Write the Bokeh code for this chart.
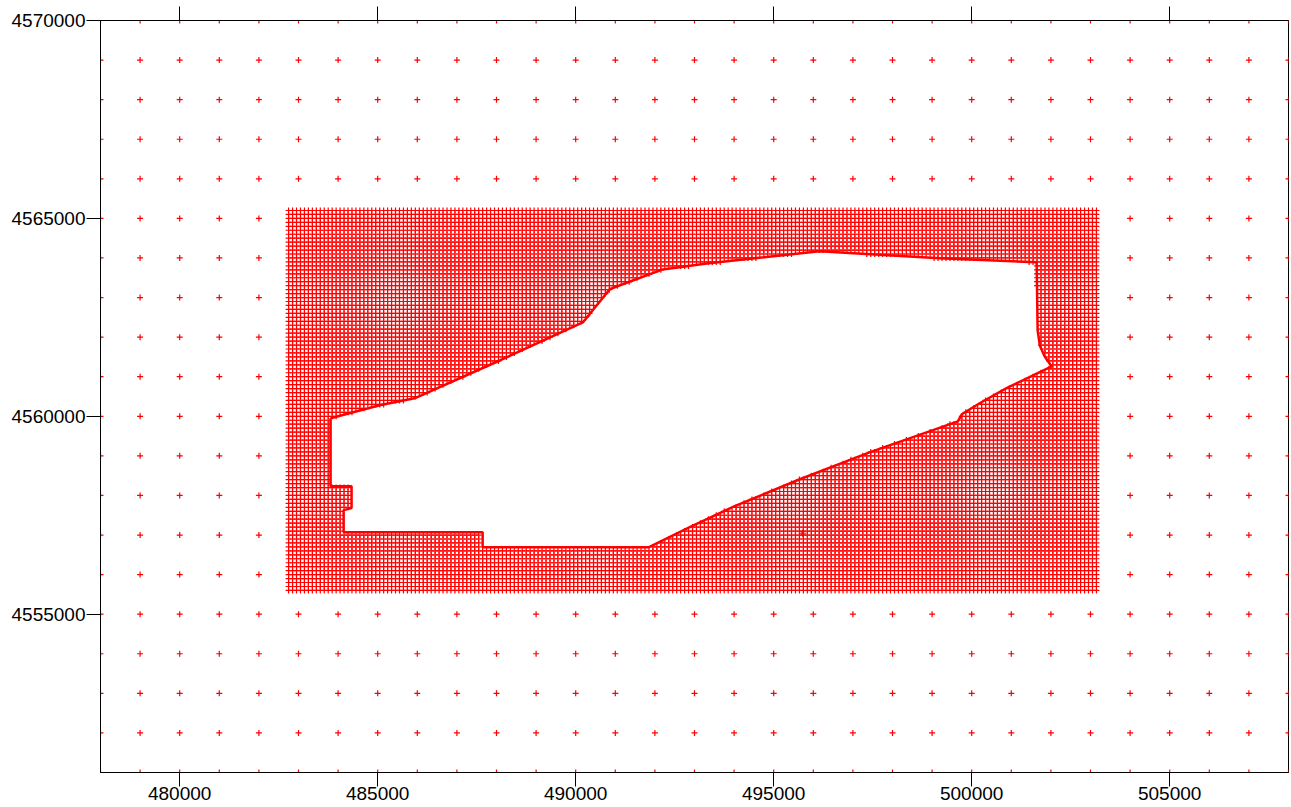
import numpy as np
from bokeh.plotting import figure
from bokeh.models import Range1d, LinearAxis, FixedTicker, BasicTickFormatter
from bokeh.embed import file_html
from bokeh.resources import INLINE

# ---- data ----
# coarse grid (1000 m) covering the whole domain
coarse_x = list(range(478000, 508001, 1000))
coarse_y = list(range(4551000, 4570001, 1000))
# refined grid (100 m) rectangle
fine_x = list(range(482750, 503151, 100))
fine_y = list(range(4555600, 4565201, 100))
# hole (island) boundary vertices
hole_x = [483810, 483810, 484340, 484340, 484140, 484140, 487650, 487650, 491840,
          492880, 494015, 495660, 497420, 499650, 499750, 500200, 500880, 502020,
          501840, 501720, 501665, 501640, 499190, 496160, 493310, 492200, 490985,
          490860, 490180, 488080, 485930, 485050]
hole_y = [4559950, 4558230, 4558230, 4557680, 4557630, 4557070, 4557070, 4556690, 4556690,
          4557200, 4557730, 4558410, 4559090, 4559870, 4560050, 4560330, 4560710, 4561260,
          4561515, 4561790, 4562170, 4563890, 4563990, 4564170, 4563860, 4563710, 4563260,
          4563210, 4562370, 4561410, 4560455, 4560280]
extra_x = [495730]
extra_y = [4557045]

x_ticks = [480000, 485000, 490000, 495000, 500000, 505000]
y_ticks = [4555000, 4560000, 4565000, 4570000]


def inside_polygon(px, py, vx, vy):
    vx = np.asarray(vx, float)
    vy = np.asarray(vy, float)
    res = np.zeros(px.shape, bool)
    n = len(vx)
    j = n - 1
    for i in range(n):
        xi, yi, xj, yj = vx[i], vy[i], vx[j], vy[j]
        cond = ((yi > py) != (yj > py))
        with np.errstate(divide="ignore", invalid="ignore"):
            xint = (xj - xi) * (py - yi) / (yj - yi) + xi
        res ^= cond & (px < xint)
        j = i
    return res


cx, cy = np.meshgrid(np.array(coarse_x, float), np.array(coarse_y, float))
cx, cy = cx.ravel(), cy.ravel()
in_rect = (cx >= fine_x[0]) & (cx <= fine_x[-1]) & (cy >= fine_y[0]) & (cy <= fine_y[-1])
cx, cy = cx[~in_rect], cy[~in_rect]

fx, fy = np.meshgrid(np.array(fine_x, float), np.array(fine_y, float))
fx, fy = fx.ravel(), fy.ravel()
keep = ~inside_polygon(fx, fy, hole_x, hole_y)
fx, fy = fx[keep], fy[keep]

p = figure(frame_width=1188, frame_height=752, output_backend="svg", toolbar_location=None,
           x_range=Range1d(478000, 508000), y_range=Range1d(4551000, 4570000),
           x_axis_location=None, y_axis_location=None,
           min_border_left=100, min_border_right=3, min_border_top=20, min_border_bottom=0)
p.grid.visible = False
p.outline_line_color = "black"
p.outline_line_width = 1
p.background_fill_color = "white"
p.border_fill_color = "white"

fmt = BasicTickFormatter(use_scientific=False)
font = "Liberation Sans"

left = LinearAxis(ticker=FixedTicker(ticks=y_ticks), formatter=fmt)
bottom = LinearAxis(ticker=FixedTicker(ticks=x_ticks), formatter=fmt)
top = LinearAxis(ticker=FixedTicker(ticks=x_ticks), formatter=fmt)
for ax in (left, bottom, top):
    ax.axis_line_color = "black"
    ax.major_tick_line_color = "black"
    ax.major_tick_in = 0
    ax.major_tick_out = 14
    ax.minor_tick_line_color = None
    ax.major_label_text_font = font
    ax.major_label_text_font_size = "19px"
    ax.major_label_text_color = "black"
    ax.major_label_standoff = 1
top.major_label_text_color = None
top.major_label_text_font_size = "1px"
top.major_label_standoff = 0
top.major_tick_out = 14
bottom.major_label_standoff = 0
p.add_layout(left, "left")
p.add_layout(bottom, "below")
p.add_layout(top, "above")

p.scatter(cx, cy, marker="cross", size=6, line_color="red", line_width=1.2)
p.scatter(fx, fy, marker="cross", size=6, line_color="red", line_width=1.2)
p.line(hole_x + hole_x[:1], hole_y + hole_y[:1], line_color="red", line_width=2.5)
p.scatter(extra_x, extra_y, marker="asterisk", size=7, line_color="red", line_width=1)

open("out.html", "w").write(file_html(p, INLINE))
